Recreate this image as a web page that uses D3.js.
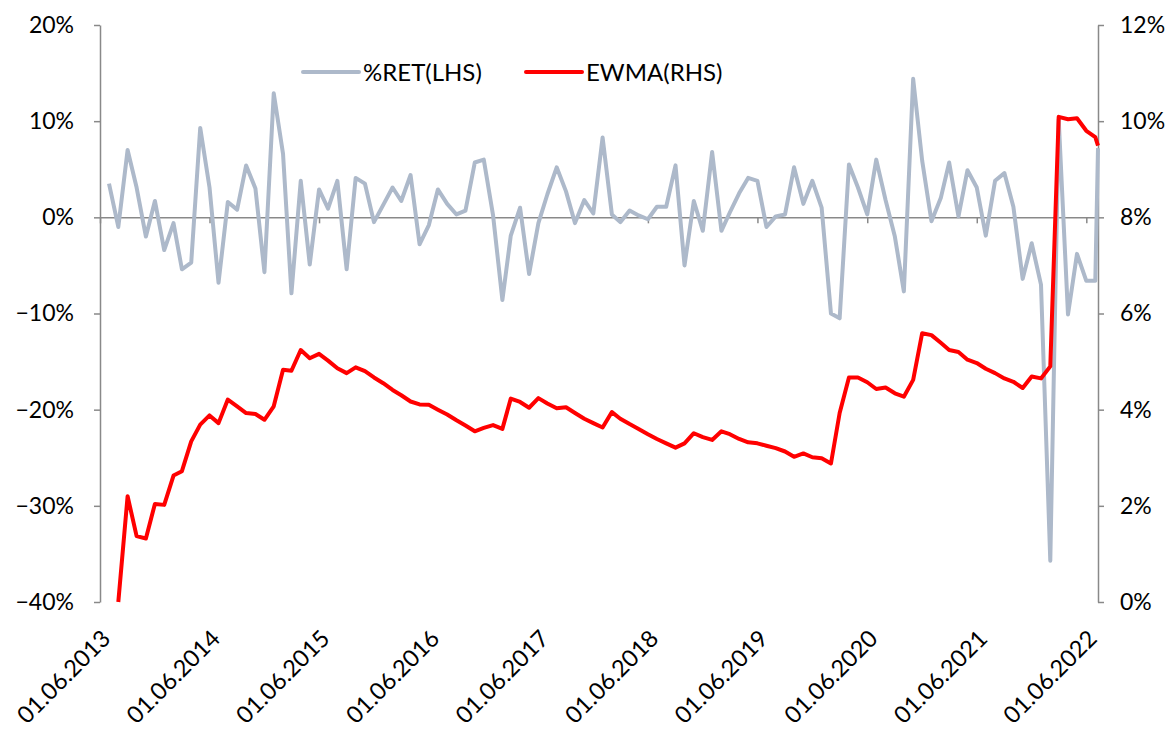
<!DOCTYPE html>
<html>
<head>
<meta charset="utf-8">
<script src="https://cdn.jsdelivr.net/npm/d3@7/dist/d3.min.js"></script>
<style>
  body { margin: 0; background: #fff; }
  svg text { font-family: Lato, "Open Sans", sans-serif; fill: #000; }
</style>
</head>
<body>
<div id="root"></div>
<script>
const width = 1173;
const height = 731;

// monthly observations, plus one extra point a few days after the last month
const firstMonth = "2013-07-01";
const lastMonth = "2022-07-01";
const lastDate = "2022-07-10";

const xTickLabels = ["01.06.2013", "01.06.2014", "01.06.2015", "01.06.2016", "01.06.2017",
  "01.06.2018", "01.06.2019", "01.06.2020", "01.06.2021", "01.06.2022"];
const leftTicks = [-40, -30, -20, -10, 0, 10, 20];
const rightTicks = [0, 2, 4, 6, 8, 10, 12];
const seriesNames = ["%RET(LHS)", "EWMA(RHS)"];

// %RET, left axis (%)
const retValues = [
  3.5, -1.0, 7.0, 3.1, -2.0, 1.7, -3.4, -0.6, -5.4, -4.7,
  9.3, 3.1, -6.8, 1.6, 0.8, 5.4, 3.0, -5.7, 12.9, 6.6,
  -7.9, 3.8, -4.9, 2.9, 0.9, 3.8, -5.4, 4.1, 3.5, -0.5,
  1.3, 3.1, 1.7, 4.4, -2.8, -0.8, 2.9, 1.4, 0.3, 0.7,
  5.7, 6.0, 0.2, -8.6, -1.9, 1.0, -5.9, -0.6, 2.4, 5.2,
  2.7, -0.6, 1.8, 0.4, 8.3, 0.3, -0.5, 0.7, 0.2, -0.2,
  1.1, 1.1, 5.4, -5.0, 1.7, -1.4, 6.8, -1.4, 0.5, 2.5,
  4.1, 3.8, -1.0, 0.1, 0.3, 5.2, 1.4, 3.8, 1.0, -10.0,
  -10.5, 5.5, 3.1, 0.3, 6.0, 1.8, -2.0, -7.7, 14.4, 5.9,
  -0.4, 2.0, 5.7, 0.1, 4.9, 3.1, -1.9, 3.8, 4.6, 1.1,
  -6.4, -2.7, -7.0, -35.7, 10.2, -10.1, -3.8, -6.6, -6.6, 7.2
];

// EWMA, right axis (%)
const ewmaValues = [
  null, 0.0, 2.2, 1.37, 1.32, 2.04, 2.02, 2.63, 2.72, 3.34,
  3.69, 3.88, 3.72, 4.21, 4.07, 3.93, 3.91, 3.79, 4.07, 4.83,
  4.81, 5.24, 5.07, 5.16, 5.02, 4.86, 4.76, 4.88, 4.80, 4.67,
  4.55, 4.41, 4.30, 4.17, 4.11, 4.10, 4.00, 3.90, 3.78, 3.67,
  3.55, 3.62, 3.68, 3.60, 4.23, 4.16, 4.04, 4.24, 4.13, 4.03,
  4.05, 3.93, 3.81, 3.72, 3.63, 3.95, 3.81, 3.70, 3.60, 3.49,
  3.39, 3.30, 3.21, 3.30, 3.51, 3.43, 3.37, 3.55, 3.49, 3.39,
  3.32, 3.30, 3.25, 3.20, 3.13, 3.02, 3.09, 3.01, 2.99, 2.88,
  3.93, 4.67, 4.67, 4.57, 4.43, 4.46, 4.34, 4.27, 4.62, 5.59,
  5.55, 5.39, 5.24, 5.20, 5.04, 4.97, 4.85, 4.76, 4.65, 4.58,
  4.45, 4.69, 4.65, 4.90, 10.09, 10.04, 10.06, 9.80, 9.67, 9.49
];

const retColor = "#adb9ca";
const ewmaColor = "#ff0000";
const axisColor = "#898989";

const plotLeft = 100, plotRight = 1098, plotTop = 25, plotBottom = 602;

const parseIso = d3.timeParse("%Y-%m-%d");
const parseLabel = d3.timeParse("%d.%m.%Y");

const dates = d3.timeMonth.range(parseIso(firstMonth), d3.timeMonth.offset(parseIso(lastMonth), 1))
  .concat([parseIso(lastDate)]);
const tickDates = xTickLabels.map(parseLabel);

const svg = d3.select("#root").append("svg")
  .attr("width", width)
  .attr("height", height);

const xScale = d3.scaleTime()
  .domain([tickDates[0], parseIso(lastDate)])
  .range([plotLeft, plotRight]);

const yLeft = d3.scaleLinear()
  .domain([d3.min(leftTicks), d3.max(leftTicks)])
  .range([plotBottom, plotTop]);

const yRight = d3.scaleLinear()
  .domain([d3.min(rightTicks), d3.max(rightTicks)])
  .range([plotBottom, plotTop]);

const pct = d => (d < 0 ? "\u2212" : "") + Math.abs(d) + "%";

// left axis
const leftAxis = svg.append("g")
  .attr("transform", `translate(${plotLeft},0)`)
  .call(d3.axisLeft(yLeft).tickValues(leftTicks).tickFormat(pct)
    .tickSizeInner(6).tickSizeOuter(0).tickPadding(20));

// right axis
const rightAxis = svg.append("g")
  .attr("transform", `translate(${plotRight},0)`)
  .call(d3.axisRight(yRight).tickValues(rightTicks).tickFormat(d => d + "%")
    .tickSizeInner(6).tickSizeOuter(0).tickPadding(16));

// horizontal axis on the zero line, labels under the plot
const xAxis = svg.append("g")
  .attr("transform", `translate(0,${yLeft(0)})`)
  .call(d3.axisBottom(xScale).tickValues(tickDates).tickFormat("")
    .tickSizeInner(6).tickSizeOuter(0));

[leftAxis, rightAxis, xAxis].forEach(g => {
  g.select(".domain").attr("stroke", axisColor).attr("stroke-width", 1.5);
  g.selectAll(".tick line").attr("stroke", axisColor).attr("stroke-width", 1.5);
  g.selectAll(".tick text").style("font-size", "23px").attr("fill", "#000");
});

svg.append("g")
  .selectAll("text")
  .data(tickDates)
  .enter()
  .append("text")
  .attr("transform", (d, i) => `translate(${xScale(d) + 12},640) rotate(-45)`)
  .attr("text-anchor", "end")
  .style("font-size", "23.5px")
  .text((d, i) => xTickLabels[i]);

// series
const retLine = d3.line()
  .x((d, i) => xScale(dates[i]))
  .y(d => yLeft(d));

const ewmaLine = d3.line()
  .defined(d => d !== null)
  .x((d, i) => xScale(dates[i]))
  .y(d => yRight(d));

svg.append("path")
  .datum(retValues)
  .attr("d", retLine)
  .attr("fill", "none")
  .attr("stroke", retColor)
  .attr("stroke-width", 4)
  .attr("stroke-linejoin", "round");

svg.append("path")
  .datum(ewmaValues)
  .attr("d", ewmaLine)
  .attr("fill", "none")
  .attr("stroke", ewmaColor)
  .attr("stroke-width", 4)
  .attr("stroke-linejoin", "round");

// legend
const legend = svg.append("g").attr("transform", "translate(0,72)");
const legendItems = [
  { name: seriesNames[0], color: retColor, x: 303 },
  { name: seriesNames[1], color: ewmaColor, x: 526 }
];
legendItems.forEach(item => {
  legend.append("line")
    .attr("x1", item.x).attr("x2", item.x + 56)
    .attr("y1", 0).attr("y2", 0)
    .attr("stroke", item.color)
    .attr("stroke-width", 4)
    .attr("stroke-linecap", "round");
  legend.append("text")
    .attr("x", item.x + 60)
    .attr("y", 8.5)
    .style("font-size", "24px")
    .text(item.name);
});
</script>
</body>
</html>
